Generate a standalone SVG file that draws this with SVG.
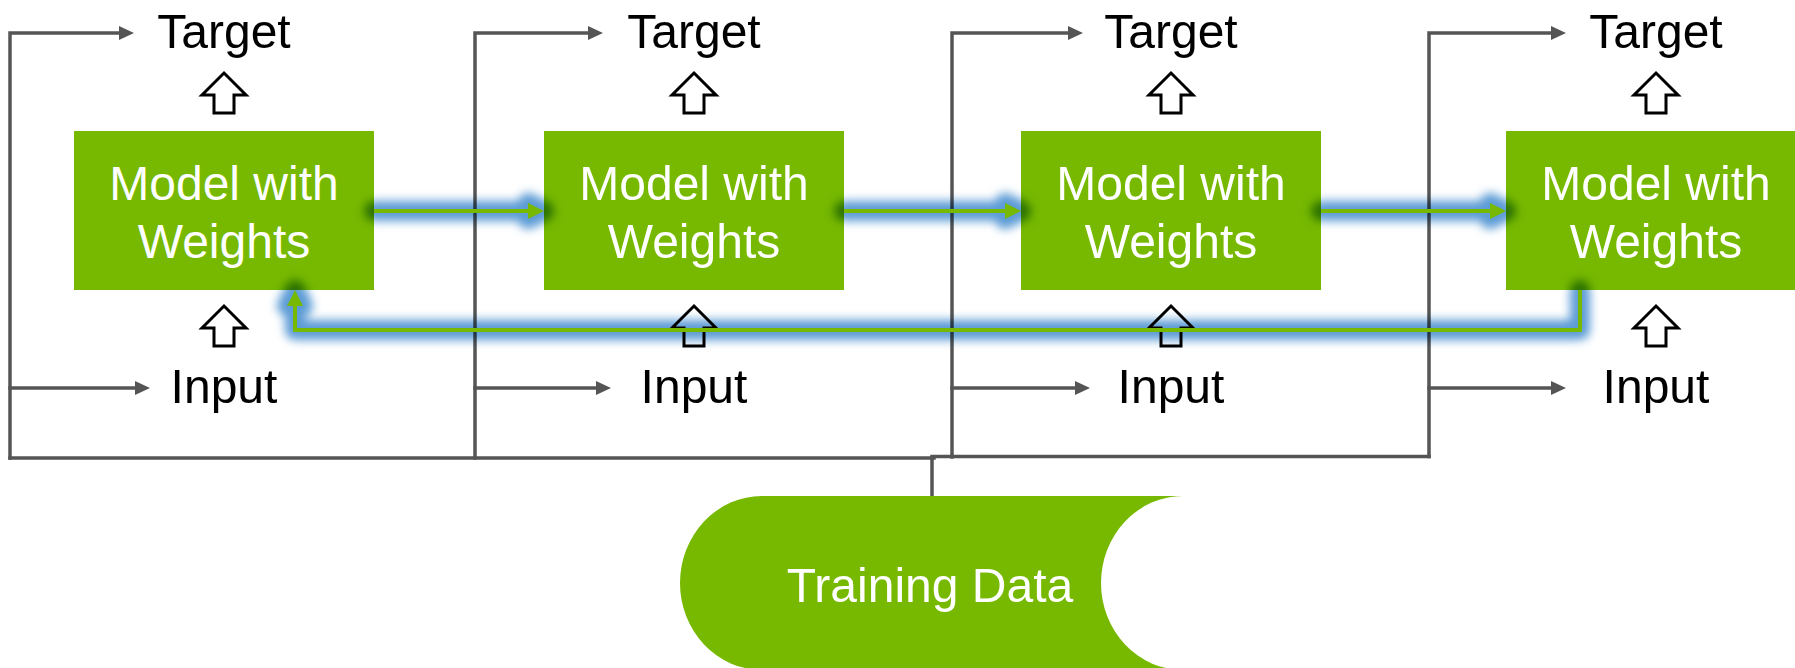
<svg xmlns="http://www.w3.org/2000/svg" width="1795" height="668" viewBox="0 0 1795 668">
  <style>
    .lbl { font-family: "Liberation Sans", Arial, sans-serif; font-size: 48px; fill: #000; text-anchor: middle; }
    .wlbl { font-family: "Liberation Sans", Arial, sans-serif; font-size: 48px; fill: #fff; text-anchor: middle; }
    .box { fill: #76b900; }
    .gline { fill: none; stroke: #555; stroke-width: 3.5; stroke-linecap: square; stroke-linejoin: miter; }
    .hollow { fill: #fff; stroke: #000; stroke-width: 3; stroke-linejoin: miter; }
    .glow { fill: none; stroke: #5b9bd5; stroke-width: 20; stroke-linecap: round; stroke-linejoin: round; }
    .glowhead { fill: #5b9bd5; stroke: #5b9bd5; stroke-width: 20; stroke-linejoin: round; }
    .green { fill: none; stroke: #76b900; stroke-width: 4; }
  </style>
  <defs>
    <marker id="ag" markerUnits="userSpaceOnUse" markerWidth="16" markerHeight="16" refX="8" refY="7" orient="auto">
      <path d="M0,0 L15,7 L0,14 Z" fill="#555"/>
    </marker>
    <marker id="agr" markerUnits="userSpaceOnUse" markerWidth="18" markerHeight="18" refX="8" refY="8" orient="auto">
      <path d="M0,0 L16,8 L0,16 Z" fill="#76b900"/>
    </marker>
    <filter id="blur" filterUnits="userSpaceOnUse" x="0" y="0" width="1795" height="668">
      <feGaussianBlur stdDeviation="5"/>
    </filter>
    <path id="hol" d="M0,0 L22,22 L10,22 L10,40 L-10,40 L-10,22 L-22,22 Z"/>
  </defs>

  <g id="frame-lines">
    <path class="gline" d="M10,458 V33 H127" marker-end="url(#ag)"/>
    <path class="gline" d="M10,388 H143" marker-end="url(#ag)"/>
    <path class="gline" d="M10,458 H934"/>
    <path class="gline" d="M475,458 V33 H596" marker-end="url(#ag)"/>
    <path class="gline" d="M475,388 H604" marker-end="url(#ag)"/>
    <path class="gline" d="M952,457 V33 H1076" marker-end="url(#ag)"/>
    <path class="gline" d="M952,388 H1083" marker-end="url(#ag)"/>
    <path class="gline" d="M1429,456.5 V33 H1559" marker-end="url(#ag)"/>
    <path class="gline" d="M1429,388 H1559" marker-end="url(#ag)"/>
    <path class="gline" d="M932,456.5 H1429"/>
    <path class="gline" d="M932,458 V496"/>
  </g>

  <g id="model1">
    <rect class="box" x="74" y="131" width="300" height="159"/>
    <text class="wlbl" x="224" y="200">Model with</text>
    <text class="wlbl" x="224" y="258">Weights</text>
    <use href="#hol" class="hollow" x="224" y="73"/>
    <use href="#hol" class="hollow" x="224" y="306"/>
    <text class="lbl" x="224" y="48">Target</text>
    <text class="lbl" x="224" y="403">Input</text>
  </g>
  <g id="model2">
    <rect class="box" x="544" y="131" width="300" height="159"/>
    <text class="wlbl" x="694" y="200">Model with</text>
    <text class="wlbl" x="694" y="258">Weights</text>
    <use href="#hol" class="hollow" x="694" y="73"/>
    <use href="#hol" class="hollow" x="694" y="306"/>
    <text class="lbl" x="694" y="48">Target</text>
    <text class="lbl" x="694" y="403">Input</text>
  </g>
  <g id="model3">
    <rect class="box" x="1021" y="131" width="300" height="159"/>
    <text class="wlbl" x="1171" y="200">Model with</text>
    <text class="wlbl" x="1171" y="258">Weights</text>
    <use href="#hol" class="hollow" x="1171" y="73"/>
    <use href="#hol" class="hollow" x="1171" y="306"/>
    <text class="lbl" x="1171" y="48">Target</text>
    <text class="lbl" x="1171" y="403">Input</text>
  </g>
  <g id="model4">
    <rect class="box" x="1506" y="131" width="300" height="159"/>
    <text class="wlbl" x="1656" y="200">Model with</text>
    <text class="wlbl" x="1656" y="258">Weights</text>
    <use href="#hol" class="hollow" x="1656" y="73"/>
    <use href="#hol" class="hollow" x="1656" y="306"/>
    <text class="lbl" x="1656" y="48">Target</text>
    <text class="lbl" x="1656" y="403">Input</text>
  </g>

  <g id="training-data">
    <path class="box" d="M762,496 L1183,496 A82,87 0 0 0 1183,670 L762,670 A82,87 0 0 1 762,496 Z"/>
    <text class="wlbl" x="930" y="602">Training Data</text>
  </g>

  <g id="connectors">
    <g filter="url(#blur)" style="mix-blend-mode:multiply">
      <path class="glow" d="M374,211 H536"/>
      <path class="glowhead" d="M528,203 L544,211 L528,219 Z"/>
      <path class="glow" d="M844,211 H1013"/>
      <path class="glowhead" d="M1005,203 L1021,211 L1005,219 Z"/>
      <path class="glow" d="M1321,211 H1498"/>
      <path class="glowhead" d="M1490,203 L1506,211 L1490,219 Z"/>
      <path class="glow" d="M1580,290 V330 H295 V298"/>
      <path class="glowhead" d="M287,306 L295,290 L303,306 Z"/>
    </g>
    <path class="green" d="M374,211 H536" marker-end="url(#agr)"/>
    <path class="green" d="M844,211 H1013" marker-end="url(#agr)"/>
    <path class="green" d="M1321,211 H1498" marker-end="url(#agr)"/>
    <path class="green" d="M1580,290 V330 H295 V298" marker-end="url(#agr)"/>
  </g>
</svg>
